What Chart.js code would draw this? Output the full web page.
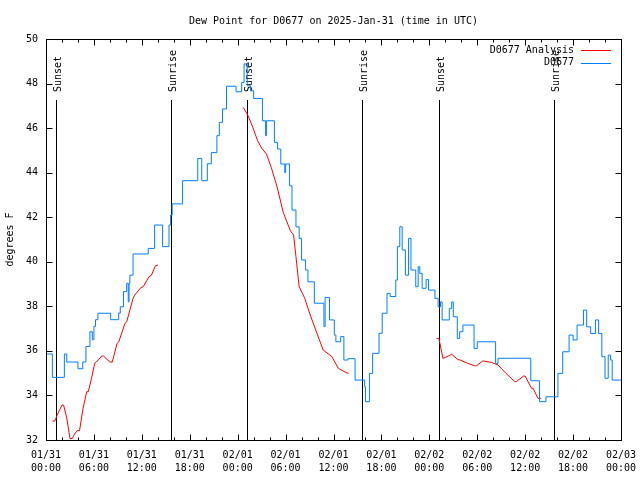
<!DOCTYPE html>
<html>
<head>
<meta charset="utf-8">
<title>Dew Point for D0677</title>
<script src="https://cdn.jsdelivr.net/npm/chart.js@4.4.1/dist/chart.umd.min.js"></script>
<style>
  body { margin: 0; background: #fff; }
  canvas { display: block; }
</style>
</head>
<body>
<canvas id="dew-chart" width="640" height="480"></canvas>
<script>
// hours since 01/31 00:00 UTC
const obsHours = [0.0, 0.8, 2.3, 2.6, 4.0, 4.6, 5.0, 5.5, 5.8, 6.0, 6.2, 6.5, 8.1, 9.1, 9.3, 9.7, 10.1, 10.3, 10.4, 10.5,
  10.9, 12.8, 13.6, 14.6, 15.4, 15.6, 15.8, 17.1, 19.0, 19.5, 20.2, 20.7, 21.4, 21.7, 22.1, 22.6, 23.8, 24.5, 24.8, 25.2,
  25.6, 26.0, 27.1, 27.5, 27.6, 28.6, 29.0, 29.4, 29.9, 30.0, 30.5, 30.8, 31.3, 31.7, 32.0, 32.5, 32.8, 33.6, 34.8, 34.95,
  35.5, 36.1, 36.3, 36.9, 37.3, 37.8, 38.7, 39.9, 40.0, 40.5, 40.9, 41.7, 42.1, 42.7, 43.1, 43.8, 44.0, 44.3, 44.6, 45.0,
  45.4, 45.7, 46.3, 46.6, 46.8, 47.1, 47.6, 47.9, 48.7, 49.1, 49.4, 49.6, 50.5, 50.8, 51.0, 51.5, 51.8, 52.2, 53.6, 54.0,
  56.3, 56.6, 60.7, 61.8, 62.6, 64.1, 64.7, 65.5, 66.0, 66.5, 67.3, 67.7, 68.2, 68.8, 69.2, 69.6, 70.0, 70.4, 70.7, 70.9, 72.0];
const obsValues = [35.86, 34.81, 35.86, 35.5, 35.2, 35.5, 36.2, 36.86, 36.5, 37.1, 37.4, 37.69, 37.4, 37.7, 37.98, 38.66, 39.03, 38.2, 39.03, 39.4,
  40.35, 40.6, 41.65, 40.68, 41.65, 42.1, 42.6, 43.64, 44.64, 43.64, 44.4, 44.9, 45.66, 46.26, 46.86, 47.88, 47.63, 48.05, 48.88, 47.9,
  47.68, 47.33, 46.33, 45.66, 46.33, 45.36, 45.06, 44.39, 44.0, 44.39, 43.41, 42.32, 41.57, 41.05, 40.08, 39.63, 39.1, 38.14, 37.09, 38.4,
  37.39, 36.71, 36.41, 36.64, 35.59, 35.65, 34.69, 34.39, 33.72, 34.99, 35.89, 36.79, 37.69, 38.58, 38.44, 39.18, 40.68, 41.57, 40.53, 39.4,
  41.05, 39.63, 38.88, 39.78, 39.48, 38.81, 39.2, 38.73, 38.36, 37.98, 38.2, 37.39, 37.91, 38.2, 37.53, 36.56, 36.86, 37.16, 36.11, 36.41,
  35.44, 35.67, 34.66, 33.72, 33.94, 34.99, 35.96, 36.71, 36.49, 37.16, 37.83, 37.08, 36.78, 37.39, 36.78, 35.74, 34.77, 35.81, 35.59, 34.69, 34.69];

const anaHours = [0.8, 1.1, 1.4, 2.0, 2.2, 2.6, 3.0, 3.3, 3.5, 3.9, 4.2, 4.6, 5.1, 5.3, 5.7, 6.1, 6.3, 7.0, 7.2, 8.0,
  8.3, 8.9, 9.1, 9.9, 10.1, 10.9, 11.1, 11.8, 12.2, 12.9, 13.2, 13.7, 14.0, 19.0,
  24.7, 25.3, 25.9, 26.5, 27.0, 27.6, 28.2, 28.9, 29.7, 30.6, 31.0, 31.3, 31.7, 32.4, 33.0, 33.7, 34.7, 35.8, 36.6, 37.6, 37.9, 43.0,
  48.9, 49.2, 49.7, 50.0, 50.8, 51.6, 51.8, 52.8, 53.7, 53.9, 54.7, 55.8, 56.6, 57.6, 58.7, 58.9, 59.8, 60.0, 60.8, 61.0, 61.6, 62.0];
const anaValues = [32.85, 32.85, 33.12, 33.57, 33.57, 32.99, 32.07, 32.07, 32.22, 32.42, 32.42, 33.35, 34.17, 34.17, 34.77, 35.44, 35.5, 35.77, 35.77, 35.5,
  35.5, 36.34, 36.4, 37.24, 37.3, 38.36, 38.5, 38.81, 38.9, 39.33, 39.4, 39.82, 39.85, null,
  46.93, 46.56, 46.03, 45.43, 45.1, 44.84, 44.24, 43.41, 42.22, 41.39, 41.2, 40.23, 38.88, 38.36, 37.7, 37.01, 36.04, 35.74, 35.22, 35.02, 35.0, null,
  36.56, 36.56, 35.67, 35.7, 35.85, 35.6, 35.6, 35.44, 35.33, 35.33, 35.55, 35.48, 35.37, 34.99, 34.62, 34.62, 34.87, 34.87, 34.32, 34.32, 33.87, 33.87];

const sunHours = [1.2, 15.6, 25.2, 39.6, 49.2, 63.6];
const sunLabels = ['Sunset', 'Sunrise', 'Sunset', 'Sunrise', 'Sunset', 'Sunrise'];

const seriesNames = ['D0677 Analysis', 'D0677'];
const seriesColors = ['#ff0000', '#0080ff'];

const FONT = '10px "DejaVu Sans Mono", monospace';

function hourLabel(h) {
  const day = 31 + Math.floor(h / 24);
  const date = day > 31 ? '02/' + String(day - 31).padStart(2, '0') : '01/31';
  const hh = String(h % 24).padStart(2, '0');
  return [date, hh + ':00'];
}

function pts(xs, ys) {
  return xs.map((x, i) => ({ x: x, y: ys[i] }));
}

const px = v => Math.round(v) + 0.5;

// sunrise / sunset markers under the data
const sunLines = {
  id: 'sunLines',
  beforeDatasetsDraw(chart) {
    const ctx = chart.ctx;
    const xs = chart.scales.x;
    const area = chart.chartArea;
    ctx.save();
    ctx.strokeStyle = '#000';
    ctx.lineWidth = 1;
    ctx.font = FONT;
    ctx.fillStyle = '#000';
    sunHours.forEach((h, i) => {
      const x = px(xs.getPixelForValue(h));
      ctx.beginPath();
      ctx.moveTo(x, area.top + 61);
      ctx.lineTo(x, area.bottom);
      ctx.stroke();
      ctx.save();
      ctx.translate(x + 1.5, area.top + 53);
      ctx.rotate(-Math.PI / 2);
      ctx.textAlign = 'left';
      ctx.textBaseline = 'middle';
      ctx.fillText(sunLabels[i], 0, 0);
      ctx.restore();
    });
    ctx.restore();
  }
};

// gnuplot style frame, ticks, title and key
const frame = {
  id: 'frame',
  afterDraw(chart) {
    const ctx = chart.ctx;
    const a = chart.chartArea;
    const xs = chart.scales.x;
    const ys = chart.scales.y;
    const l = px(a.left), r = px(a.right), t = px(a.top), b = px(a.bottom);
    ctx.save();
    ctx.strokeStyle = '#000';
    ctx.lineWidth = 1;
    ctx.strokeRect(l, t, r - l, b - t);

    ctx.beginPath();
    for (let h = 0; h <= 72; h += 2) {
      const x = px(xs.getPixelForValue(h));
      const len = h % 6 === 0 ? 6 : 3;
      ctx.moveTo(x, b); ctx.lineTo(x, b - len);
      ctx.moveTo(x, t); ctx.lineTo(x, t + len);
    }
    for (let v = 32; v <= 50; v += 2) {
      const y = px(ys.getPixelForValue(v));
      ctx.moveTo(l, y); ctx.lineTo(l + 6, y);
      ctx.moveTo(r, y); ctx.lineTo(r - 6, y);
    }
    ctx.stroke();

    ctx.fillStyle = '#000';
    ctx.font = FONT;
    ctx.textAlign = 'center';
    ctx.textBaseline = 'middle';
    ctx.fillText('Dew Point for D0677 on 2025-Jan-31 (time in UTC)', (a.left + a.right) / 2, 21);

    ctx.save();
    ctx.translate(10, (a.top + a.bottom) / 2);
    ctx.rotate(-Math.PI / 2);
    ctx.fillText('degrees F', 0, 0);
    ctx.restore();

    // key
    ctx.textAlign = 'right';
    seriesNames.forEach((name, i) => {
      const y = a.top + 11 + i * 12.5;
      ctx.fillText(name, a.right - 47, y);
      ctx.strokeStyle = seriesColors[i];
      ctx.beginPath();
      ctx.moveTo(a.right - 40, px(y));
      ctx.lineTo(a.right - 10, px(y));
      ctx.stroke();
    });
    ctx.restore();
  }
};

new Chart(document.getElementById('dew-chart'), {
  type: 'line',
  data: {
    datasets: [
      {
        label: seriesNames[1],
        data: pts(obsHours, obsValues),
        borderColor: seriesColors[1],
        borderWidth: 1,
        pointRadius: 0,
        stepped: true,
        fill: false
      },
      {
        label: seriesNames[0],
        data: pts(anaHours, anaValues),
        borderColor: seriesColors[0],
        borderWidth: 1,
        pointRadius: 0,
        tension: 0,
        spanGaps: false,
        fill: false
      }
    ]
  },
  options: {
    responsive: false,
    animation: false,
    events: [],
    layout: { padding: { top: 39, right: 19, left: 0, bottom: 0 } },
    plugins: {
      legend: { display: false },
      title: { display: false },
      tooltip: { enabled: false }
    },
    scales: {
      x: {
        type: 'linear',
        min: 0,
        max: 72,
        border: { display: false },
        grid: { display: false, drawTicks: false },
        ticks: {
          stepSize: 6,
          autoSkip: false,
          maxRotation: 0,
          padding: 9,
          color: '#000',
          font: { family: '"DejaVu Sans Mono", monospace', size: 10, lineHeight: 1.3 },
          callback: v => hourLabel(v)
        },
        afterFit: s => { s.height = 40; s.paddingLeft = 0; s.paddingRight = 0; }
      },
      y: {
        min: 32,
        max: 50,
        border: { display: false },
        grid: { display: false, drawTicks: false },
        ticks: {
          stepSize: 2,
          padding: 8,
          color: '#000',
          font: { family: '"DejaVu Sans Mono", monospace', size: 10 }
        },
        afterFit: s => { s.width = 46; s.paddingTop = 0; s.paddingBottom = 0; }
      }
    }
  },
  plugins: [sunLines, frame]
});
</script>
</body>
</html>
